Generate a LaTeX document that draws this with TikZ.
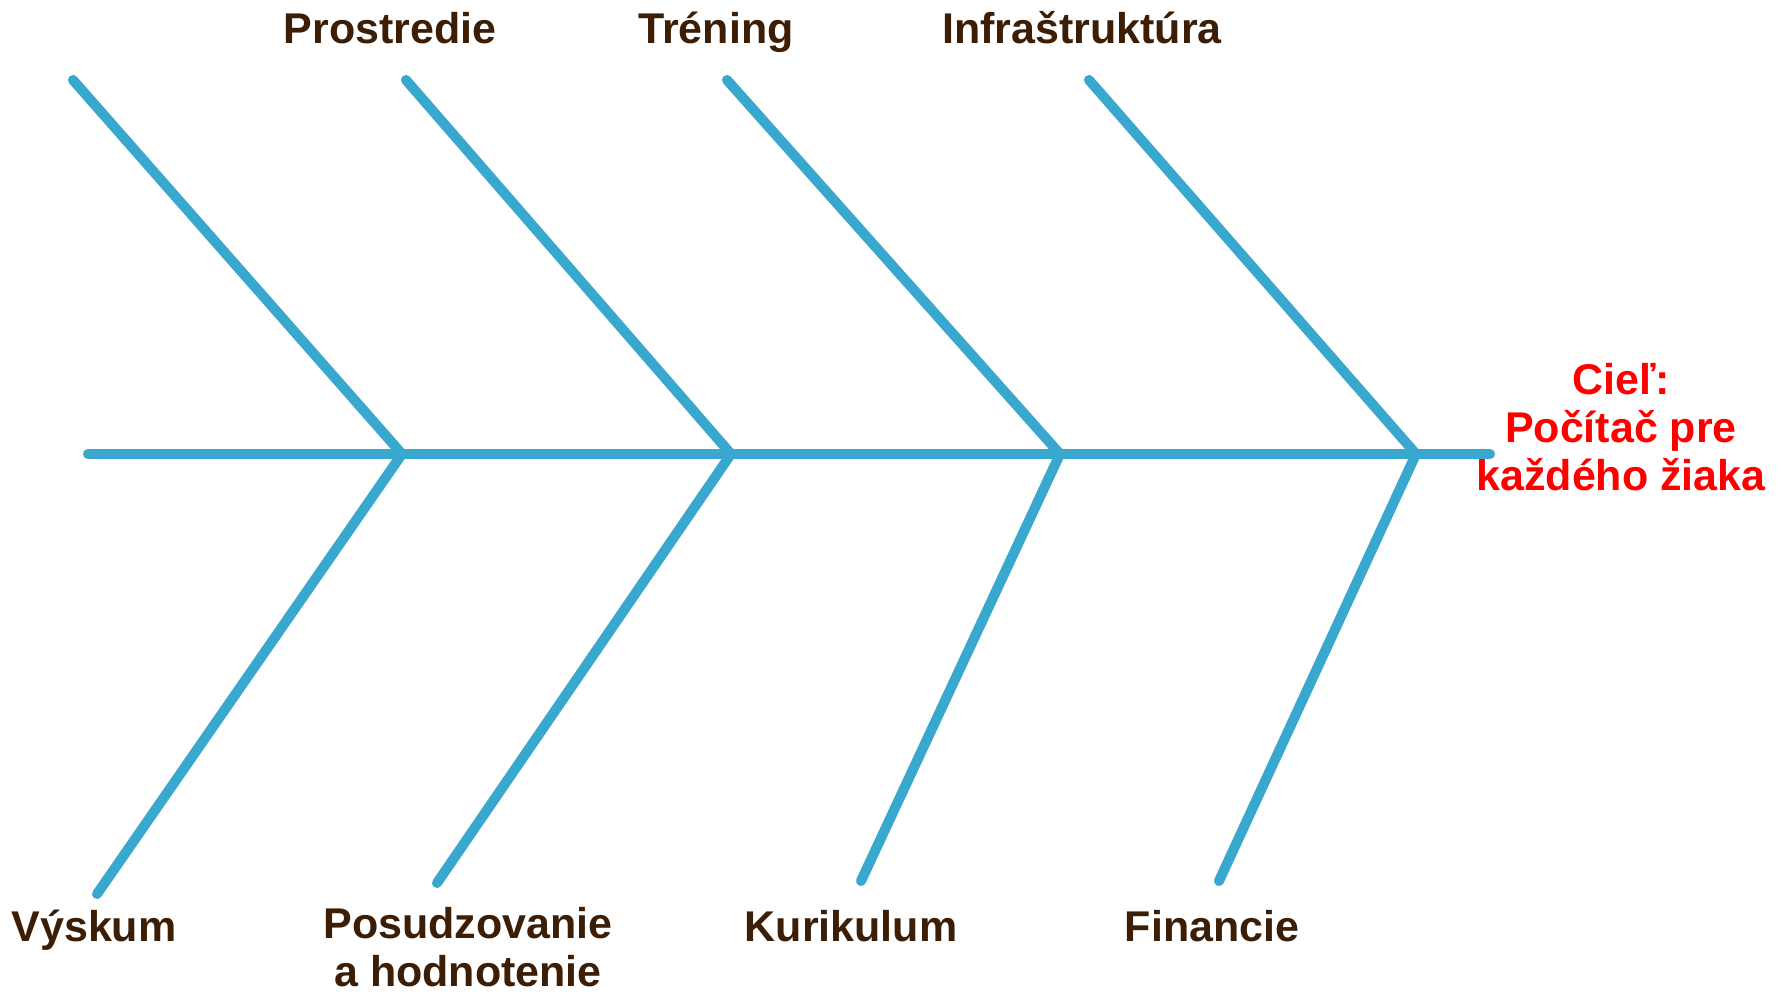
\documentclass[tikz,border=0pt]{standalone}
\usepackage{fontspec}
\setmainfont{Liberation Sans}
\usepackage{tikz}
\definecolor{bonecol}{RGB}{56,168,206}
\definecolor{labelcol}{RGB}{60,30,6}

\begin{document}
\begin{tikzpicture}[x=1pt, y=-1pt, line width=10pt, line cap=round, line join=round,
        every node/.append style={font=\fontsize{43}{48}\selectfont\bfseries, inner sep=0pt}]
      \tikzstyle{cause} = [color=labelcol, align=center, anchor=base]
      \tikzstyle{goal} = [color=red, align=center]
      \tikzstyle{bone} = [draw=bonecol]
      \tikzstyle{shade} = [draw=black!30, opacity=0.3, shift={(3,4)}]
      \useasboundingbox (0,0) rectangle (1781,995);
      % spine and joints
      \coordinate (tail) at (88,454);
      \coordinate (head) at (1490,454);
      \coordinate (j1) at (402,454);
      \coordinate (j2) at (731,454);
      \coordinate (j3) at (1060,454);
      \coordinate (j4) at (1416,454);
      % free ends of the bones
      \coordinate (t1) at (73,80);
      \coordinate (t2) at (406,80);
      \coordinate (t3) at (727,80);
      \coordinate (t4) at (1089,80);
      \coordinate (b1) at (97,894);
      \coordinate (b2) at (437,883);
      \coordinate (b3) at (861,881);
      \coordinate (b4) at (1219,881);
      % labels
      \node (Prostredie) [cause] at (390,44) {Prostredie};
      \node (Trening) [cause] at (716,44) {Tréning};
      \node (Infra) [cause] at (1082,44) {Infraštruktúra};
      \node (Vyskum) [cause] at (94,941) {Výskum};
      \node (Posudzovanie) [cause, anchor=north] at (468,902) {Posudzovanie\\a hodnotenie};
      \node (Kurikulum) [cause] at (851,941) {Kurikulum};
      \node (Financie) [cause] at (1212,941) {Financie};
      \node (Ciel) [goal] at (1621,427) {Cieľ:\\Počítač pre\\každého žiaka};
      % soft shadow, then the bones
      \draw[shade] (tail) -- (head);
      \foreach \j in {1,...,4} \draw[shade] (t\j) -- (j\j) -- (b\j);
      \draw[bone] (tail) -- (head);
      \foreach \j in {1,...,4} \draw[bone] (t\j) -- (j\j) -- (b\j);
    \end{tikzpicture}
\end{document}
